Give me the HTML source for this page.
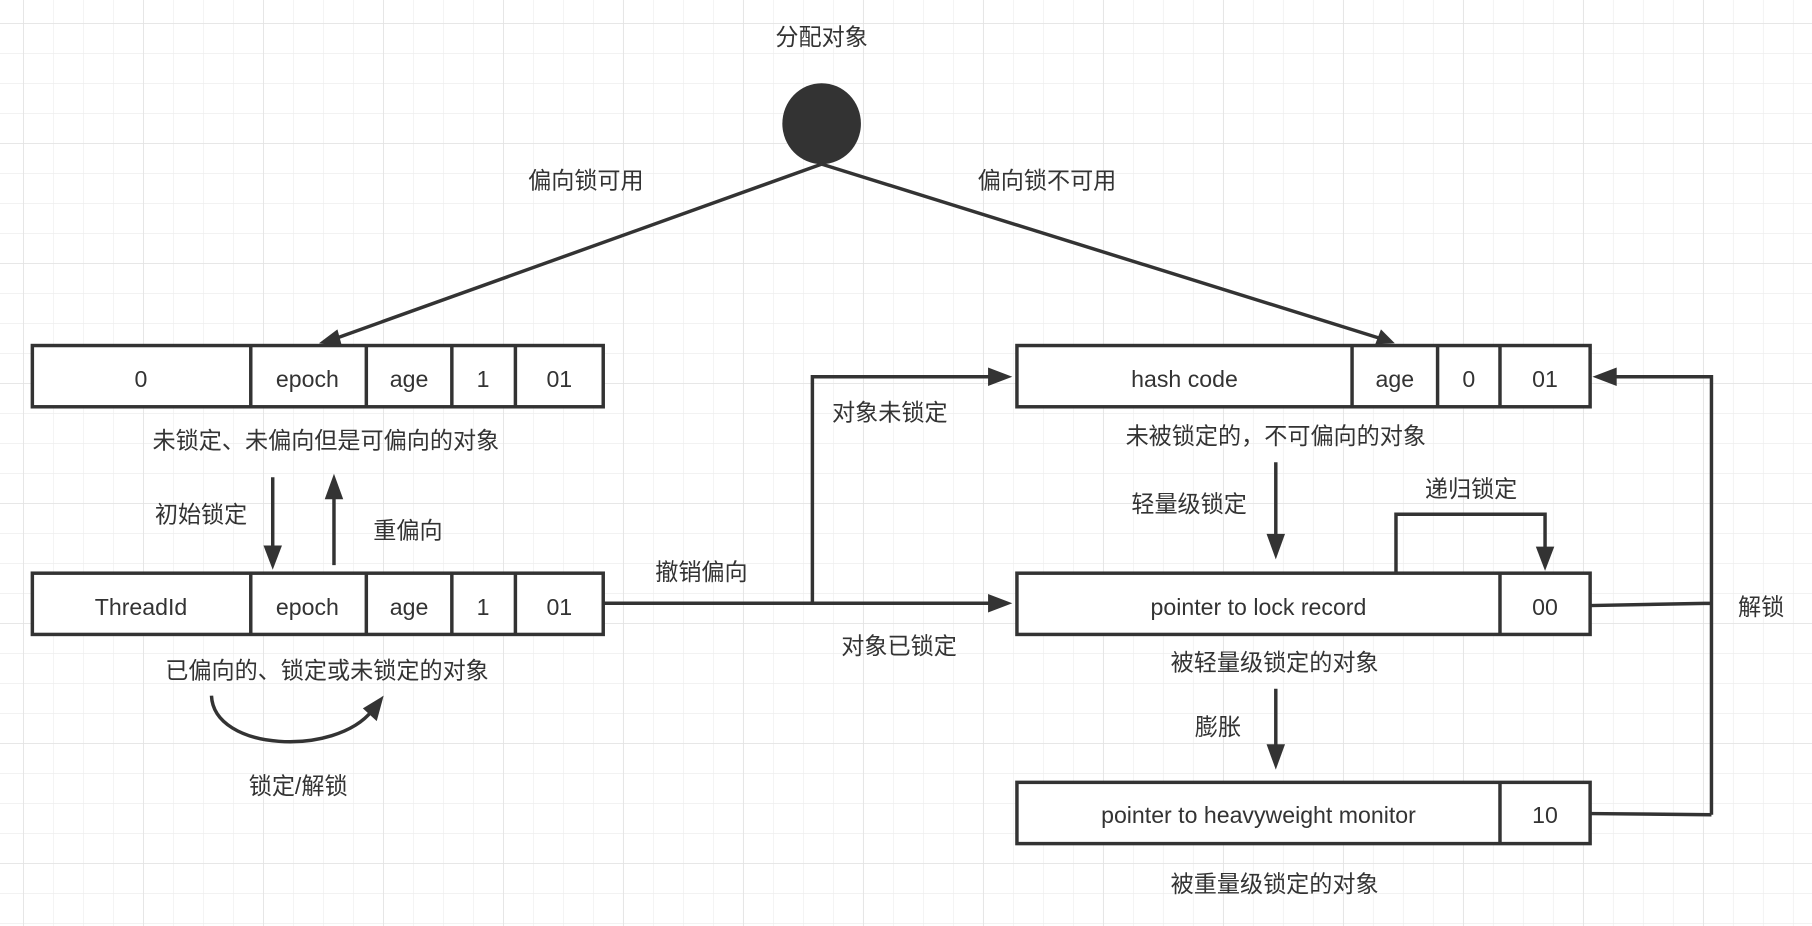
<!DOCTYPE html>
<html><head><meta charset="utf-8"><style>
html,body{margin:0;padding:0;background:#fff;}
svg{display:block;}
text{font-family:"Liberation Sans","Noto Sans CJK SC",sans-serif;fill:#333;font-size:20px;}
</style></head><body>
<svg width="1812" height="926" viewBox="0 0 1568 801.3" preserveAspectRatio="none" xmlns="http://www.w3.org/2000/svg">
<defs>
<pattern id="g" x="19.9" y="19.9" width="25.96" height="25.96" patternUnits="userSpaceOnUse">
<path d="M0 0H25.96M0 0V25.96" stroke="#eee" stroke-width="1.2" fill="none"/>
</pattern>
<pattern id="G" x="19.9" y="19.9" width="103.84" height="103.84" patternUnits="userSpaceOnUse">
<path d="M0 0H103.84M0 0V103.84" stroke="#e2e2e2" stroke-width="1.4" fill="none"/>
</pattern>
<marker id="a" viewBox="0 0 10 10" refX="9" refY="5" markerWidth="7" markerHeight="7" orient="auto" markerUnits="userSpaceOnUse" style="overflow:visible">
</marker>
</defs>
<rect width="1568" height="802" fill="#fff"/>
<rect width="1568" height="802" fill="url(#g)"/>
<rect width="1568" height="802" fill="url(#G)"/>
<g stroke="#333" stroke-width="3" fill="#fff">
<rect x="28" y="299" width="494" height="53"/>
<rect x="28" y="496" width="494" height="53"/>
<rect x="880" y="299" width="496" height="53"/>
<rect x="880" y="496" width="496" height="53"/>
<rect x="880" y="677" width="496" height="53"/>
<path d="M217 299V352M317 299V352M391 299V352M446 299V352M217 496V549M317 496V549M391 496V549M446 496V549M1170 299V352M1244 299V352M1298 299V352M1298 496V549M1298 677V730" fill="none"/>
</g>
<ellipse cx="711" cy="107" rx="34" ry="35" fill="#333"/>
<g stroke="#333" stroke-width="3" fill="none">
<path d="M711 142L290 293"/>
<path d="M711 142L1195 293"/>
<path d="M236 413V478"/>
<path d="M289 489V428"/>
<path d="M522 522H703V326H862"/>
<path d="M703 522H862"/>
<path d="M1208 496V445H1337V478"/>
<path d="M1104 400V466"/>
<path d="M1104 596V648"/>
<path d="M1376 524L1481 522M1376 704L1481 705M1481 705V326H1394"/>
<path d="M183 602C185 650 290 655 322 615"/>
</g>
<g fill="#333">
<polygon points="276,297 292,285 296,300"/>
<polygon points="1207,297 1190,298 1195,285"/>
<polygon points="236,493 228,472 244,472"/>
<polygon points="289,410 281,432 297,432"/>
<polygon points="876,326 855,318 855,334"/>
<polygon points="876,522 855,514 855,530"/>
<polygon points="1337,494 1329,473 1345,473"/>
<polygon points="1104,484 1096,462 1112,462"/>
<polygon points="1104,666 1096,644 1112,644"/>
<polygon points="1378,326 1399,318 1399,334"/>
<polygon points="332,602 314,613 326,624"/>
</g>
<g text-anchor="middle">
<text x="711" y="39">分配对象</text>
<text x="507" y="163">偏向锁可用</text>
<text x="906" y="163">偏向锁不可用</text>
<text x="122" y="335">0</text>
<text x="266" y="335">epoch</text>
<text x="354" y="335">age</text>
<text x="418" y="335">1</text>
<text x="484" y="335">01</text>
<text x="122" y="532">ThreadId</text>
<text x="266" y="532">epoch</text>
<text x="354" y="532">age</text>
<text x="418" y="532">1</text>
<text x="484" y="532">01</text>
<text x="282" y="388">未锁定、未偏向但是可偏向的对象</text>
<text x="174" y="452">初始锁定</text>
<text x="353" y="466">重偏向</text>
<text x="283" y="587">已偏向的、锁定或未锁定的对象</text>
<text x="258" y="687">锁定/解锁</text>
<text x="607" y="502">撤销偏向</text>
<text x="770" y="364">对象未锁定</text>
<text x="778" y="566">对象已锁定</text>
<text x="1025" y="335">hash code</text>
<text x="1207" y="335">age</text>
<text x="1271" y="335">0</text>
<text x="1337" y="335">01</text>
<text x="1104" y="384">未被锁定的，不可偏向的对象</text>
<text x="1029" y="443">轻量级锁定</text>
<text x="1273" y="430">递归锁定</text>
<text x="1089" y="532">pointer to lock record</text>
<text x="1337" y="532">00</text>
<text x="1103" y="580">被轻量级锁定的对象</text>
<text x="1054" y="636">膨胀</text>
<text x="1089" y="712">pointer to heavyweight monitor</text>
<text x="1337" y="712">10</text>
<text x="1103" y="772">被重量级锁定的对象</text>
<text x="1524" y="532">解锁</text>
</g>
</svg>
</body></html>
